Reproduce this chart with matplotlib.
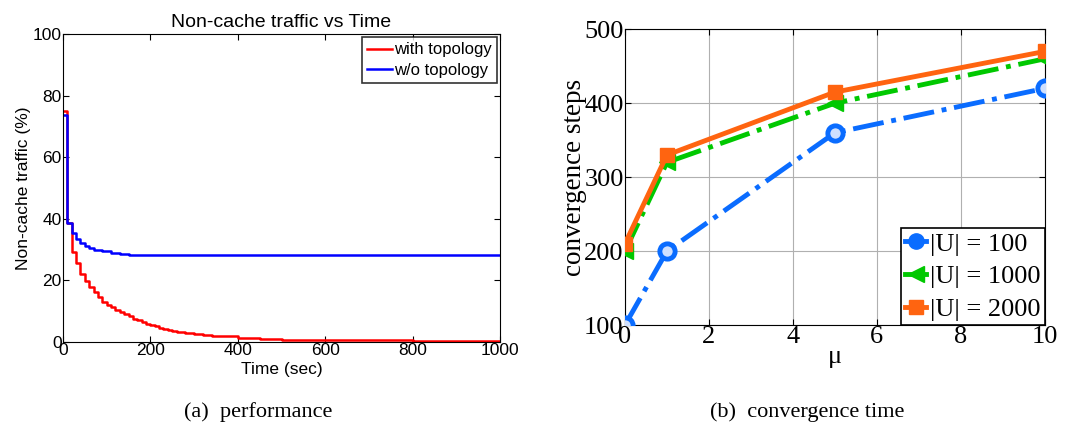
import matplotlib
matplotlib.use("Agg")
import matplotlib.pyplot as plt
import matplotlib.lines as mlines
import numpy as np

# ---------- Data: (a) non-cache traffic vs time (step edges) ----------
t_red = [0, 10, 20, 30, 40, 50, 60, 70, 80, 90, 100, 110, 120, 130, 140,
         150, 160, 170, 180, 190, 200, 210, 220, 230, 240, 250, 260, 270,
         280, 300, 320, 340, 360, 400, 450, 500, 600, 800, 1000]
y_red = [75, 38.5, 29.3, 25.5, 22.2, 19.7, 17.7, 16.3, 14.6, 13.0, 11.9,
         11.2, 10.3, 9.8, 9.0, 8.4, 7.6, 7.0, 6.5, 6.0, 5.4, 5.1, 4.7, 4.3,
         4.0, 3.7, 3.4, 3.1, 2.9, 2.7, 2.4, 2.1, 1.8, 1.4, 1.1, 0.8, 0.5,
         0.4, 0.4]

t_blue = [0, 10, 20, 30, 40, 50, 60, 70, 90, 110, 130, 150, 330, 340, 360,
          380, 400, 420, 480, 500, 1000]
y_blue = [73.8, 38.8, 35.5, 33.5, 32.3, 31.3, 30.6, 30.0, 29.5, 29.0, 28.6,
          28.3, 28.1, 28.3, 28.1, 28.3, 28.1, 28.3, 28.1, 28.3, 28.3]

# ---------- Data: (b) convergence steps vs mu ----------
mu = [0, 1, 5, 10]
steps_100 = [100, 200, 360, 420]
steps_1000 = [200, 320, 400, 460]
steps_2000 = [210, 330, 415, 470]

sans = "Liberation Sans"
serif = "Liberation Serif"

fig = plt.figure(figsize=(10.85, 4.3), dpi=100)

# ---------- (a) ----------
ax1 = fig.add_axes([0.058, 0.2047, 0.403, 0.716])
ax1.step(t_red, y_red, where="post", color="red", lw=1.8, label="with topology")
ax1.step(t_blue, y_blue, where="post", color="blue", lw=1.8, label="w/o topology")
ax1.set_xlim(0, 1000)
ax1.set_ylim(0, 100)
ax1.set_xticks(np.arange(0, 1001, 200))
ax1.set_yticks(np.arange(0, 101, 20))
ax1.tick_params(direction="in", top=True, right=True, labelsize=12.5, length=4, pad=1)
for lab in ax1.get_xticklabels() + ax1.get_yticklabels():
    lab.set_fontfamily(sans)
ax1.set_xlabel("Time (sec)", fontsize=12.5, family=sans, labelpad=2.5)
ax1.set_ylabel("Non-cache traffic (%)", fontsize=12.5, family=sans, labelpad=1)
ax1.set_title("Non-cache traffic vs Time", fontsize=14, family=sans, pad=5)
leg1 = ax1.legend(loc="upper right", frameon=True, fancybox=False,
                  prop={"family": sans, "size": 12},
                  handlelength=1.5, handletextpad=0.1, borderaxespad=0.2,
                  borderpad=0.3, labelspacing=0.35)
leg1.get_frame().set_edgecolor("black")
leg1.get_frame().set_linewidth(1.2)

# ---------- (b) ----------
blue = "#0a6cff"
green = "#00c800"
orange = "#ff6410"

ax2 = fig.add_axes([0.576, 0.244, 0.387, 0.688])
ax2.plot(mu, steps_100, color=blue, lw=3.5, ls="-.", marker="o", ms=11,
         mfc="#cfe0ff", mec=blue, mew=3.5, zorder=3)
ax2.plot(mu, steps_1000, color=green, lw=3.5, ls="-.", marker="<", ms=12,
         mfc=green, mec=green, zorder=4)
ax2.plot(mu, steps_2000, color=orange, lw=3.5, ls="-", marker="s", ms=10,
         mfc=orange, mec=orange, zorder=5)
ax2.set_xlim(0, 10)
ax2.set_ylim(100, 500)
ax2.set_xticks(np.arange(0, 11, 2))
ax2.set_yticks(np.arange(100, 501, 100))
ax2.grid(True, color="#b0b0b0", lw=0.8)
ax2.tick_params(direction="in", top=True, right=True, labelsize=19, length=4, pad=1)
for lab in ax2.get_xticklabels() + ax2.get_yticklabels():
    lab.set_fontfamily(serif)
ax2.set_xlabel("μ", fontsize=19, family=serif, labelpad=-2)
ax2.set_ylabel("convergence steps", fontsize=19.5, family=serif, labelpad=-2)

handles = [
    mlines.Line2D([], [], color=blue, lw=3.5, marker="o", ms=11, label="|U| = 100"),
    mlines.Line2D([], [], color=green, lw=3.5, marker="<", ms=12, label="|U| = 1000"),
    mlines.Line2D([], [], color=orange, lw=3.5, marker="s", ms=10, label="|U| = 2000"),
]
leg2 = ax2.legend(handles=handles, loc="lower right", frameon=True, fancybox=False,
                  prop={"family": serif, "size": 19}, handlelength=0.8,
                  handletextpad=0.15, borderaxespad=0.0, borderpad=0.15,
                  labelspacing=0.35)
leg2.get_frame().set_edgecolor("black")
leg2.get_frame().set_linewidth(1.2)
leg2.get_frame().set_alpha(1)

# ---------- Captions ----------
fig.text(0.238, 0.03, "(a)  performance", family=serif, fontsize=16, ha="center")
fig.text(0.744, 0.03, "(b)  convergence time", family=serif, fontsize=16, ha="center")

fig.savefig("out.png", dpi=100)
